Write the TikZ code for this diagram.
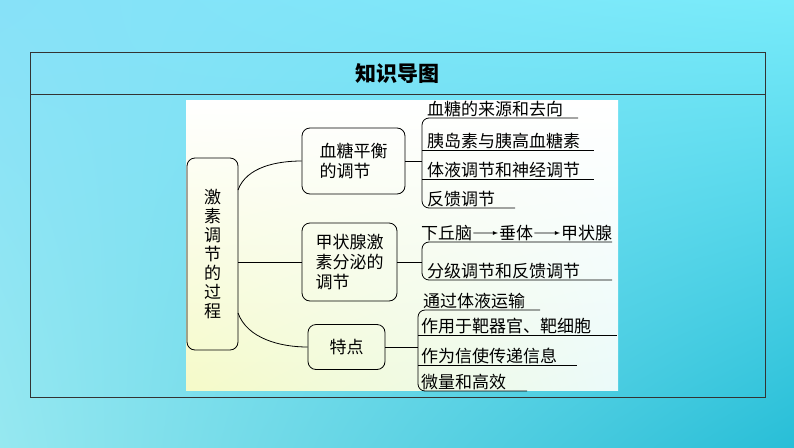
\documentclass[tikz,border=0pt]{standalone}
\usepackage{fontspec}
\setmainfont{Noto Sans CJK SC}
\usetikzlibrary{shadings}
\definecolor{bgUL}{RGB}{135,225,248}
\definecolor{bgUR}{RGB}{120,235,250}
\definecolor{bgLL}{RGB}{150,232,240}
\definecolor{bgLR}{RGB}{40,190,215}
\definecolor{panelLL}{RGB}{245,250,200}
\definecolor{panelLR}{RGB}{235,250,250}
\begin{document}
\begin{tikzpicture}[x=1pt, y=-1pt,
    box/.style={
        draw, thick,
        rounded corners=8pt,
        align=left,
        font=\fontsize{17}{20}\selectfont
    },
    item/.style={
        anchor=south west,
        inner sep=1pt,
        font=\fontsize{17}{20}\selectfont
    },
    link/.style={thick},
    brace/.style={thick, rounded corners=7pt}
]

%%%%%%%%%%%%%%%%%%%%%%%%
% Fondo
%%%%%%%%%%%%%%%%%%%%%%%%
\useasboundingbox (0,0) rectangle (794,447);
\shade[upper left=bgUL, upper right=bgUR,
       lower left=bgLL, lower right=bgLR]
    (0,0) rectangle (794,447);
\draw[thick, black!80] (30,52) rectangle (765,397);
\draw[thick, black!80] (30,94) -- (765,94);
\node[font=\fontsize{21}{24}\selectfont\bfseries] (title) at (397,74) {知识导图};

% --- Panel ---
\shade[upper left=white, upper right=white,
       lower left=panelLL, lower right=panelLR]
    (186,100) rectangle (618,390);

%%%%%%%%%%%%%%%%%%%%%%%%
% Cajas
%%%%%%%%%%%%%%%%%%%%%%%%
\node[box, minimum width=51pt, minimum height=192pt, align=center,
      text width=18pt, font=\fontsize{17}{19}\selectfont] (root) at (212.5,254) {激\\素\\调\\节\\的\\过\\程};
\node[box, minimum width=103pt, minimum height=66pt] (sugar) at (353.5,161) {血糖平衡\\的调节};
\node[box, minimum width=95pt, minimum height=78pt, align=left] (thyroid) at (349.5,262) {甲状腺激\\素分泌的\\调节};
\node[box, minimum width=77pt, minimum height=45pt] (feature) at (346.5,347) {特点};

\coordinate (r1) at (238,190);
\coordinate (r3) at (238,313);
\draw[link] (r1) to[out=70, in=180, looseness=0.9] (sugar.west);
\draw[link] (root.east |- thyroid.west) -- (thyroid.west);
\draw[link] (r3) to[out=-70, in=180, looseness=0.9] (feature.west);

%%%%%%%%%%%%%%%%%%%%%%%%
%血糖平衡
%%%%%%%%%%%%%%%%%%%%%%%%
\node[item] (s1) at (426,118) {血糖的来源和去向};
\node[item] (s2) at (426,150) {胰岛素与胰高血糖素};
\node[item] (s3) at (426,179) {体液调节和神经调节};
\node[item] (s4) at (426,208) {反馈调节};
\coordinate (s1e) at (578,118);
\coordinate (s2e) at (594,150);
\coordinate (s3e) at (594,179);
\coordinate (s4e) at (515,208);
\draw[brace] (s1e) -- (422,118) -- (422,208) -- (s4e);
\draw[link] (422,150) -- (s2e);
\draw[link] (422,179) -- (s3e);
\draw[link] (sugar.east) -- (422,161);

%%%%%%%%%%%%%%%%%%%%%%%%
% 甲状腺
%%%%%%%%%%%%%%%%%%%%%%%%
\node[item] (t1) at (420,242) {下丘脑};
\node[item] (t2) at (498,242) {垂体};
\node[item] (t3) at (560,242) {甲状腺};
\draw[thick, -latex] (t1) -- (t2);
\draw[thick, -latex] (t2) -- (t3);
\node[item] (t4) at (426,280) {分级调节和反馈调节};
\coordinate (t1e) at (612,242);
\coordinate (t4e) at (612,280);
\draw[brace] (t1e) -- (422,242) -- (422,280) -- (t4e);
\draw[link] (thyroid.east) -- (422,262);

%%%%%%%%%%%%%%%%%%%%%%%%
% 特点
%%%%%%%%%%%%%%%%%%%%%%%%
\node[item] (f1) at (422,310) {通过体液运输};
\node[item] (f2) at (420,335) {作用于靶器官、靶细胞};
\node[item] (f3) at (420,365) {作为信使传递信息};
\node[item] (f4) at (420,391) {微量和高效};
\coordinate (f1e) at (540,310);
\coordinate (f2e) at (617,335);
\coordinate (f3e) at (577,365);
\coordinate (f4e) at (527,391);
\draw[brace] (f1e) -- (418,310) -- (418,391) -- (f4e);
\draw[link] (418,335) -- (f2e);
\draw[link] (418,365) -- (f3e);
\draw[link] (feature.east) -- (418,347);

\end{tikzpicture}
\end{document}
